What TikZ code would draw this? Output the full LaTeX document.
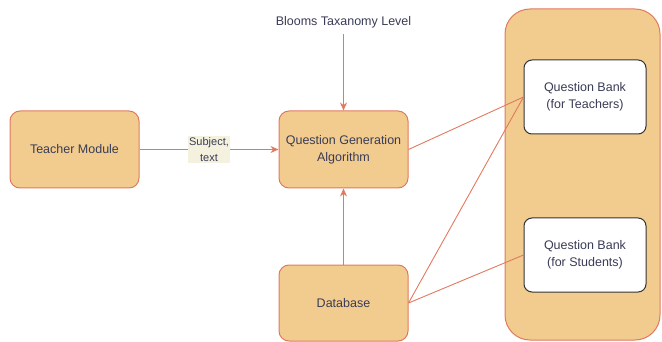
\documentclass[tikz,border=0pt]{standalone}
\usepackage{fontspec}
\setmainfont{Liberation Sans}
\usetikzlibrary{arrows.meta}
\definecolor{boxfill}{HTML}{F2CC8F}
\definecolor{boxline}{HTML}{E07A5F}
\definecolor{ink}{HTML}{393C56}
\definecolor{bankline}{HTML}{333333}
\definecolor{tagfill}{HTML}{F4F1DE}
\tikzset{
  block/.style={draw=boxline, fill=boxfill, line width=1pt, rounded corners=10pt,
    text=ink, font=\fontsize{12.5}{17}\selectfont, align=center,
    minimum width=129pt, minimum height=77pt, inner sep=0pt},
  bank/.style={draw=bankline, fill=white, line width=1pt, rounded corners=8pt,
    text=ink, font=\fontsize{12.5}{17.5}\selectfont, align=center,
    minimum width=122pt, minimum height=74pt, inner sep=0pt},
  holder/.style={draw=boxline, fill=boxfill, line width=1pt, rounded corners=25pt,
    minimum width=155pt, minimum height=331pt, inner sep=0pt},
  link/.style={draw=boxline, line width=0.9pt},
  flow/.style={link, -{Stealth[length=8pt,width=7pt]}},
  tag/.style={fill=tagfill, text=ink, font=\fontsize{11}{16}\selectfont,
    align=center, inner sep=1.5pt},
}
\begin{document}
\begin{tikzpicture}[x=1pt, y=-1pt]
  \useasboundingbox (0,0) rectangle (662,342);

  % modules
  \node[block] (teacher) at (74.5,149.5) {Teacher Module};
  \node[block] (qga) at (343.5,149.5) {Question Generation\\Algorithm};
  \node[block, minimum height=76pt] (db) at (343.5,303) {Database};

  % container holding the two question banks
  \node[holder] (store) at (582.5,174.5) {};
  \node[bank] (qbt) at (585,97) {Question Bank\\(for Teachers)};
  \node[bank] (qbs) at (585,255) {Question Bank\\(for Students)};

  % external input
  \node[text=ink, font=\fontsize{12.5}{15}\selectfont, inner sep=0pt] (blm) at (343.5,22) {Blooms Taxanomy Level};

  % connectors
  \draw[flow] ([yshift=-6pt]blm.south) -- (qga.north);
  \draw[flow] (teacher.east) -- node[tag] (subj) {Subject,\\text} (qga.west);
  \draw[flow] (db.north) -- (qga.south);
  \draw[link] (qga.east) -- (qbt.west);
  \draw[link] (db.east) -- (qbt.west);
  \draw[link] (db.east) -- (qbs.west);
\end{tikzpicture}
\end{document}
